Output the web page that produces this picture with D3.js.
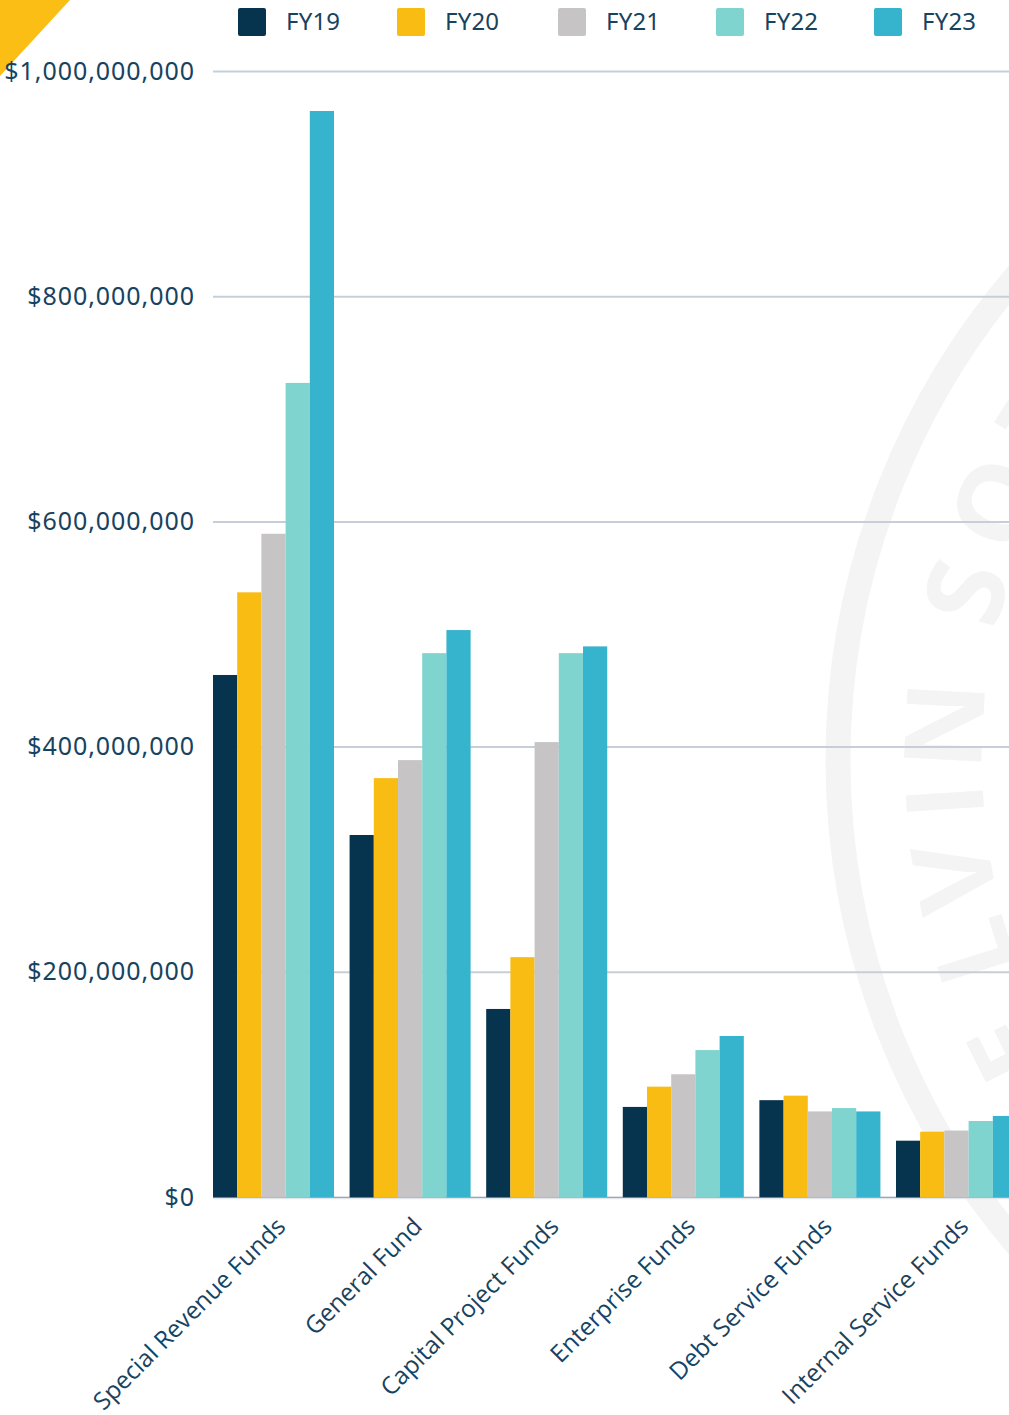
<!DOCTYPE html>
<html><head><meta charset="utf-8">
<script src="https://cdn.jsdelivr.net/npm/d3@7/dist/d3.min.js"></script>
<style>html,body{margin:0;padding:0;background:#fff;overflow:hidden}svg{display:block}</style>
</head><body><svg id="c" width="1009" height="1415"></svg>
<script>
const categories=["Special Revenue Funds","General Fund","Capital Project Funds","Enterprise Funds","Debt Service Funds","Internal Service Funds"];
const seriesNames=["FY19","FY20","FY21","FY22","FY23"];
const FY19=[463.6,321.5,167,80,86,50];
const FY20=[537,372,213,98,90,58];
const FY21=[589,388,404,109,76,59];
const FY22=[723,483,483,130.5,79,67.5];
const FY23=[964.5,503.5,489,143,76,72];
const colors=["#06344f","#f9bc12","#c6c4c5","#80d4cf","#36b4cd"];
const yTicks=[0,200e6,400e6,600e6,800e6,1000e6];
const wmLetters=["K","E","L","V","I","N","S","O","T"];
const wmAngles=[35.4,26.6,17.4,10.5,3.7,-3.1,-15.2,-23.7,-32.3];
const ink="#17435f";
const series=[FY19,FY20,FY21,FY22,FY23];

const svg=d3.select("#c");
// watermark seal, off the right edge
const wm="#f4f4f4";
const cx=1583,cy=760;
svg.append("circle").attr("cx",cx).attr("cy",cy).attr("r",745).attr("fill","none").attr("stroke",wm).attr("stroke-width",25);
svg.append("g").selectAll("text").data(wmLetters).join("text")
 .attr("font-family","Open Sans").attr("font-weight",700).attr("font-size",108).attr("fill",wm).attr("text-anchor","middle")
 .attr("transform",(d,i)=>`rotate(${-wmAngles[i]},${cx},${cy}) translate(${cx-601},${cy}) rotate(-90)`)
 .text(d=>d);
// corner
svg.append("path").attr("d",d3.line()([[0,0],[70,0],[0,76]])+"Z").attr("fill","#fbbe14");

const y=d3.scaleLinear().domain([0,1e9]).range([1197,71]);
const x=d3.scaleBand().domain(categories).range([205.2,1024.8]).paddingInner(.114).paddingOuter(.057);
const x1=d3.scaleBand().domain(seriesNames).range([0,x.bandwidth()]);

const fmt=d3.format("$,");
const gy=svg.append("g").attr("transform","translate(213,0)")
 .call(d3.axisLeft(y).tickValues(yTicks).tickFormat(fmt).tickSize(0).tickPadding(18));
gy.select(".domain").remove();
gy.selectAll("line").attr("x2",800).attr("stroke",d=>d===0?"#7f93a3":"#c6cfd7").attr("stroke-width",d=>d===0?1.5:2);
gy.selectAll("text").attr("font-family","Noto Sans").attr("font-size",25).attr("letter-spacing",0.95).attr("fill",ink);

svg.append("g").selectAll("g").data(seriesNames).join("g").each(function(n,si){
  d3.select(this).selectAll("rect").data(series[si]).join("rect")
   .attr("x",(d,i)=>x(categories[i])+x1(n)).attr("width",x1.bandwidth())
   .attr("y",d=>y(d*1e6)).attr("height",d=>y(0)-y(d*1e6)+.5).attr("fill",colors[si]);
});
// pale rule just under the bars
svg.append("line").attr("x1",213).attr("x2",1009).attr("y1",y(0)+1.5).attr("y2",y(0)+1.5).attr("stroke","#e3e7eb").attr("stroke-width",1.5);

const gx=svg.append("g").attr("transform","translate(0,1197)")
 .call(d3.axisBottom(x).tickSize(0).tickPadding(0));
gx.select(".domain").remove();
gx.selectAll("text").attr("font-family","Open Sans").attr("font-size",24.4).attr("fill",ink)
 .attr("text-anchor","end").attr("dy",0).attr("dx",0)
 .attr("transform","translate(13.5,31) rotate(-45)");

const legendX=d3.scaleOrdinal().domain(seriesNames).range([238,397,558,716,874]);
const lg=svg.append("g").selectAll("g").data(seriesNames).join("g").attr("transform",d=>`translate(${legendX(d)},8)`);
lg.append("rect").attr("width",28).attr("height",28).attr("rx",2).attr("fill",(d,i)=>colors[i]);
lg.append("text").attr("x",48).attr("y",22).attr("font-family","Noto Sans").attr("font-size",24).attr("letter-spacing",0.2).attr("fill",ink).text(d=>d);
</script></body></html>
